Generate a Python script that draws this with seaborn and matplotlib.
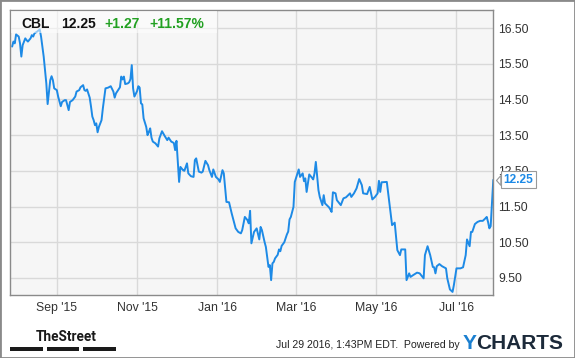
import matplotlib
matplotlib.use("Agg")
import matplotlib.pyplot as plt
import matplotlib.patches as mpatches
from matplotlib.transforms import offset_copy
from matplotlib.path import Path
import seaborn as sns
import pandas as pd

# ---------------- data ----------------
ticker = "CBL"
last_price_text = "12.25"
change_text = "+1.27"
change_pct_text = "+11.57%"
stamp_text = "Jul 29 2016, 1:43PM EDT.  Powered by"
brand_text = "TheStreet"

dates = [
    "2015-07-29", "2015-07-30", "2015-07-31", "2015-08-01", "2015-08-03", "2015-08-04", "2015-08-05",
    "2015-08-06", "2015-08-08", "2015-08-09", "2015-08-10", "2015-08-12", "2015-08-13", "2015-08-14",
    "2015-08-15", "2015-08-17", "2015-08-19", "2015-08-20", "2015-08-22", "2015-08-24", "2015-08-25",
    "2015-08-27", "2015-08-28", "2015-08-29", "2015-08-30", "2015-09-01", "2015-09-02", "2015-09-04",
    "2015-09-05", "2015-09-07", "2015-09-08", "2015-09-10", "2015-09-11", "2015-09-13", "2015-09-15",
    "2015-09-16", "2015-09-18", "2015-09-19", "2015-09-21", "2015-09-22", "2015-09-23", "2015-09-24",
    "2015-09-26", "2015-09-27", "2015-09-28", "2015-09-29", "2015-09-30", "2015-10-01", "2015-10-02",
    "2015-10-03", "2015-10-05", "2015-10-06", "2015-10-08", "2015-10-10", "2015-10-12", "2015-10-14",
    "2015-10-15", "2015-10-16", "2015-10-19", "2015-10-20", "2015-10-21", "2015-10-22", "2015-10-23",
    "2015-10-25", "2015-10-26", "2015-10-27", "2015-10-28", "2015-10-29", "2015-10-30", "2015-11-01",
    "2015-11-02", "2015-11-03", "2015-11-04", "2015-11-05", "2015-11-06", "2015-11-08", "2015-11-09",
    "2015-11-10", "2015-11-11", "2015-11-12", "2015-11-13", "2015-11-15", "2015-11-17", "2015-11-18",
    "2015-11-20", "2015-11-22", "2015-11-24", "2015-11-25", "2015-11-27", "2015-11-29", "2015-11-30",
    "2015-12-01", "2015-12-02", "2015-12-03", "2015-12-04", "2015-12-06", "2015-12-07", "2015-12-09",
    "2015-12-10", "2015-12-12", "2015-12-14", "2015-12-15", "2015-12-16", "2015-12-18", "2015-12-20",
    "2015-12-21", "2015-12-23", "2015-12-25", "2015-12-26", "2015-12-28", "2015-12-29", "2015-12-31",
    "2016-01-02", "2016-01-03", "2016-01-05", "2016-01-06", "2016-01-08", "2016-01-10", "2016-01-12",
    "2016-01-15", "2016-01-17", "2016-01-19", "2016-01-20", "2016-01-22", "2016-01-24", "2016-01-25",
    "2016-01-26", "2016-01-27", "2016-01-29", "2016-01-31", "2016-02-02", "2016-02-03", "2016-02-04",
    "2016-02-06", "2016-02-07", "2016-02-09", "2016-02-10", "2016-02-11", "2016-02-12", "2016-02-13",
    "2016-02-14", "2016-02-16", "2016-02-17", "2016-02-18", "2016-02-19", "2016-02-21", "2016-02-23",
    "2016-02-24", "2016-02-25", "2016-02-26", "2016-02-28", "2016-02-29", "2016-03-03", "2016-03-04",
    "2016-03-06", "2016-03-07", "2016-03-08", "2016-03-09", "2016-03-11", "2016-03-13", "2016-03-14",
    "2016-03-15", "2016-03-16", "2016-03-18", "2016-03-19", "2016-03-21", "2016-03-22", "2016-03-23",
    "2016-03-26", "2016-03-27", "2016-03-28", "2016-03-29", "2016-03-31", "2016-04-01", "2016-04-04",
    "2016-04-06", "2016-04-08", "2016-04-11", "2016-04-12", "2016-04-14", "2016-04-16", "2016-04-18",
    "2016-04-20", "2016-04-21", "2016-04-24", "2016-04-26", "2016-04-28", "2016-04-30", "2016-05-02",
    "2016-05-03", "2016-05-04", "2016-05-05", "2016-05-09", "2016-05-11", "2016-05-13", "2016-05-15",
    "2016-05-17", "2016-05-19", "2016-05-20", "2016-05-23", "2016-05-24", "2016-05-26", "2016-05-27",
    "2016-05-29", "2016-06-01", "2016-06-03", "2016-06-06", "2016-06-07", "2016-06-09", "2016-06-11",
    "2016-06-13", "2016-06-14", "2016-06-15", "2016-06-16", "2016-06-18", "2016-06-20", "2016-06-23",
    "2016-06-24", "2016-06-26", "2016-06-28", "2016-06-29", "2016-07-01", "2016-07-04", "2016-07-06",
    "2016-07-08", "2016-07-09", "2016-07-11", "2016-07-12", "2016-07-13", "2016-07-15", "2016-07-17",
    "2016-07-19", "2016-07-21", "2016-07-23", "2016-07-24", "2016-07-25", "2016-07-26", "2016-07-27",
    "2016-07-29",
]

prices = [
    15.98, 16.12, 16.07, 16.32, 16.26, 16.07, 15.70,
    16.02, 16.21, 16.16, 16.12, 16.21, 16.30, 16.26,
    16.35, 16.40, 16.46, 16.26, 15.70, 14.95, 14.37,
    15.04, 15.15, 15.04, 14.81, 14.76, 14.58, 14.31,
    14.43, 14.48, 14.48, 14.20, 14.43, 14.48, 14.58,
    14.72, 14.76, 14.84, 14.90, 14.76, 14.74, 14.78,
    14.55, 14.30, 14.02, 13.92, 13.78, 13.83, 13.58,
    13.73, 13.92, 14.25, 14.81, 14.83, 14.87, 14.72,
    14.55, 14.67, 14.84, 15.14, 15.06, 15.14, 14.93,
    14.95, 14.98, 15.07, 15.46, 14.81, 14.58, 14.73,
    14.87, 14.83, 14.39, 14.36, 13.97, 13.73, 13.50,
    13.59, 13.69, 13.43, 13.32, 13.27, 13.18, 13.41,
    13.61, 13.48, 13.36, 13.43, 13.32, 13.28, 13.08,
    13.34, 12.75, 12.19, 12.61, 12.52, 12.50, 12.71,
    12.43, 12.35, 12.33, 12.80, 12.85, 12.48, 12.45,
    12.48, 12.78, 12.66, 12.52, 12.33, 12.54, 12.33,
    12.26, 12.19, 12.52, 12.43, 11.63, 11.62, 11.31,
    10.89, 10.79, 10.75, 10.84, 11.21, 11.12, 11.03,
    11.38, 10.47, 10.79, 10.89, 10.58, 10.93, 10.84,
    10.51, 10.37, 9.81, 9.86, 9.44, 9.91, 9.95,
    10.05, 10.15, 10.30, 10.25, 10.40, 10.50, 10.72,
    10.80, 11.14, 11.21, 11.49, 12.19, 12.54, 12.33,
    12.43, 12.21, 12.29, 11.91, 12.40, 12.31, 12.26,
    12.43, 12.75, 11.96, 11.77, 11.54, 11.82, 11.59,
    11.48, 11.42, 11.35, 11.90, 11.87, 11.68, 11.54,
    11.73, 11.76, 11.87, 11.77, 11.87, 12.01, 12.27,
    12.10, 11.87, 11.85, 12.05, 11.70, 11.77, 11.87,
    12.22, 11.91, 12.18, 12.19, 11.59, 10.98, 11.05,
    10.28, 10.14, 10.30, 10.30, 9.44, 9.63, 9.53,
    9.58, 9.65, 9.63, 9.49, 10.14, 10.39, 10.14,
    9.81, 9.80, 9.63, 9.83, 9.89, 9.83, 9.77,
    9.49, 9.18, 9.11, 9.30, 9.77, 9.77, 9.80,
    10.14, 10.58, 10.39, 10.79, 10.79, 11.01, 11.07,
    11.10, 11.10, 11.17, 11.21, 11.07, 10.89, 10.95,
    12.25,
]

tick_dates = ["2015-09-01", "2015-11-01", "2016-01-01", "2016-03-01", "2016-05-01", "2016-07-01"]
tick_labels = ["Sep '15", "Nov '15", "Jan '16", "Mar '16", "May '16", "Jul '16"]
y_ticks = [9.5, 10.5, 11.5, 12.5, 13.5, 14.5, 15.5, 16.5]

# ---------------- style ----------------
W, H = 575, 358
BLUE = "#1d8ae6"
GREEN = "#22a022"
sns.set_style("white")
plt.rcParams["font.family"] = ["Liberation Sans", "DejaVu Sans"]


def fx(x):
    return x / W


def fy(y):
    return 1 - y / H


fig = plt.figure(figsize=(W / 100, H / 100), dpi=100)
ax = fig.add_axes([fx(10), fy(295), (493.3 - 10) / W, (295 - 10) / H])

df = pd.DataFrame({"date": pd.to_datetime(dates), "price": prices})
sns.lineplot(data=df, x="date", y="price", ax=ax, color=BLUE, linewidth=1.4)

ax.set_facecolor("#f6f6f6")
ax.set_xlim(pd.Timestamp("2015-07-27 09:00"), pd.Timestamp("2016-07-29"))
ax.set_ylim(9.024, 17.004)
ax.set_xticks(pd.to_datetime(tick_dates))
ax.set_xticklabels(tick_labels)
ax.yaxis.tick_right()
ax.set_yticks(y_ticks)
ax.set_yticklabels([f"{v:.2f}" for v in y_ticks])
ax.tick_params(length=0, labelsize=8.8, colors="#333333")
ax.tick_params(axis="x", pad=5)
ax.tick_params(axis="y", pad=3.5)
ax.grid(True, color="#d9d9d9", linewidth=1)
ax.set_axisbelow(True)
ax.set_xlabel("")
ax.set_ylabel("")
for s in ax.spines.values():
    s.set_visible(True)
    s.set_color("#8a8a8a")
    s.set_linewidth(1)

# last value tag (drawn over the 12.50 label, as in the original)
last = prices[-1]
ytrans = ax.get_yaxis_transform()
ptr = Path([(0, 0), (4, -4.5), (4, 4.5), (0, 0)])
ax.plot([1], [last], marker=ptr, markersize=7, markerfacecolor="white",
        markeredgecolor="#999999", markeredgewidth=0.8, clip_on=False,
        transform=offset_copy(ytrans, fig=fig, x=2.2, units="points"), zorder=5)
ax.annotate(last_price_text, xy=(1, last), xycoords=ytrans,
            xytext=(7.2, 0), textcoords="offset points", ha="left", va="center",
            fontsize=8.6, fontweight="bold", color=BLUE, annotation_clip=False,
            bbox=dict(boxstyle="square,pad=0.22", fc="white", ec="#999999", lw=0.8),
            zorder=6)

# header box + texts
fig.add_artist(mpatches.Rectangle((fx(10.5), fy(33)), 206 / W, 22.5 / H, transform=fig.transFigure,
                                  facecolor="white", alpha=0.55, edgecolor="none", zorder=3))
hy = fy(28.4)
fig.text(fx(21.7), hy, ticker, fontsize=10, fontweight="bold", color="#111111", va="baseline", zorder=4)
fig.text(fx(61), hy, last_price_text, fontsize=10, fontweight="bold", color="#111111", va="baseline", zorder=4)
fig.text(fx(104.3), hy, change_text, fontsize=10, fontweight="bold", color=GREEN, va="baseline", zorder=4)
fig.text(fx(149), hy, change_pct_text, fontsize=10, fontweight="bold", color=GREEN, va="baseline", zorder=4)

# footer
fig.text(fx(36), fy(341), brand_text, fontsize=9.8, fontweight="bold",
         family=["Roboto", "Liberation Sans"], color="#1a1a1a", va="baseline")
for x0, x1 in [(10, 42.7), (46.7, 79), (83.3, 115.7)]:
    fig.add_artist(mpatches.Rectangle((fx(x0), fy(350.7)), (x1 - x0) / W, 4 / H,
                                      transform=fig.transFigure, facecolor="#1a1a1a", edgecolor="none"))
fig.text(fx(276), fy(348.5), stamp_text, fontsize=7.55, color="#222222", va="baseline")
fig.text(fx(462.7), fy(349), "Y", fontsize=15, fontweight="bold", color="#1a7fd0", va="baseline")
fig.text(fx(563), fy(349), "CHARTS", fontsize=15, fontweight="bold", color="#1c2a3a", va="baseline", ha="right")

# outer frame
fig.add_artist(mpatches.Rectangle((0, 0), 1, 1, transform=fig.transFigure, fill=False,
                                  edgecolor="#8a8a8a", linewidth=2))

fig.savefig("out.png", dpi=100)
